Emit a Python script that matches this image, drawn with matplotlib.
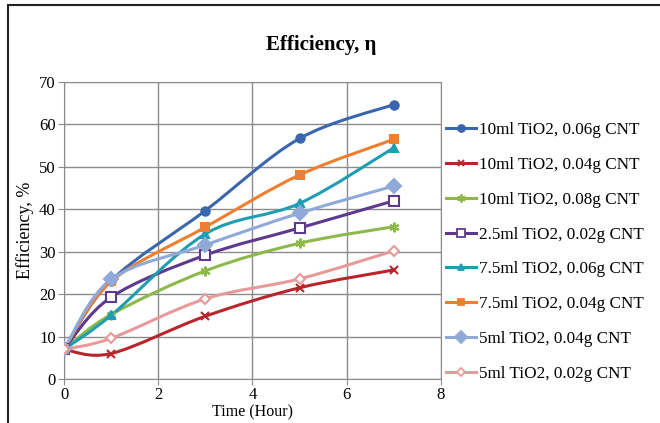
import numpy as np
import matplotlib
matplotlib.use("Agg")
import matplotlib.pyplot as plt
from matplotlib.path import Path
from matplotlib.patches import PathPatch, Rectangle
from matplotlib.lines import Line2D

plt.rcParams["font.family"] = ["Liberation Serif", "DejaVu Serif"]

# time in hours
hours = [0, 1, 3, 5, 7]

eff_10ml_006 = [7, 23.2, 39.7, 56.7, 64.7]
eff_10ml_004 = [7, 6, 14.8, 21.5, 25.7]
eff_10ml_008 = [7, 15.2, 25.5, 32.0, 35.9]
eff_25ml_002 = [7, 19.3, 29.2, 35.6, 42.0]
eff_75ml_006 = [7, 15.0, 34.2, 41.4, 54.5]
eff_75ml_004 = [7, 23.0, 35.8, 48.1, 56.5]
eff_5ml_004 = [7, 23.5, 31.6, 39.1, 45.5]
eff_5ml_002 = [7, 9.6, 18.9, 23.6, 30.2]

labels = [
    "10ml TiO2, 0.06g CNT",
    "10ml TiO2, 0.04g CNT",
    "10ml TiO2, 0.08g CNT",
    "2.5ml TiO2, 0.02g CNT",
    "7.5ml TiO2, 0.06g CNT",
    "7.5ml TiO2, 0.04g CNT",
    "5ml TiO2, 0.04g CNT",
    "5ml TiO2, 0.02g CNT",
]
series = [eff_10ml_006, eff_10ml_004, eff_10ml_008, eff_25ml_002,
          eff_75ml_006, eff_75ml_004, eff_5ml_004, eff_5ml_002]

# color, marker, marker size, marker face
styles = [
    ("#3a66ad", "o", 6, None),
    ("#b8252c", "x", 6, None),
    ("#8db84a", (6, 2, 0), 7, None),
    ("#5d3a8e", "s", 7, "white"),
    ("#1f9db3", "^", 6, None),
    ("#ef7f2f", "s", 6, None),
    ("#8fa9d8", "D", 7, None),
    ("#e89a9a", "D", 5, "white"),
]


def smooth_path(ax, xs, ys):
    # excel-like smoothed line: catmull-rom segments as cubic beziers
    pts = ax.transData.transform(np.column_stack([xs, ys]))
    verts = [pts[0]]
    codes = [Path.MOVETO]
    n = len(pts)
    for i in range(n - 1):
        p0 = pts[i - 1] if i > 0 else pts[i]
        p1 = pts[i]
        p2 = pts[i + 1]
        p3 = pts[i + 2] if i + 2 < n else pts[i + 1]
        c1 = p1 + (p2 - p0) / 6.0
        c2 = p2 - (p3 - p1) / 6.0
        verts += [c1, c2, p2]
        codes += [Path.CURVE4] * 3
    return Path(verts, codes)


fig = plt.figure(figsize=(6.6, 4.23), dpi=100)
ax = fig.add_axes([0.097, 0.104, 0.571, 0.702])

ax.set_xlim(0, 8)
ax.set_ylim(0, 70)
ax.set_xticks([0, 2, 4, 6, 8])
ax.set_yticks(range(0, 71, 10))
ax.grid(True, color="#8c8c8c", linewidth=1.0)
ax.set_axisbelow(True)
for s in ax.spines.values():
    s.set_color("#8c8c8c")
ax.tick_params(axis="both", direction="out", length=4, color="#8c8c8c",
               labelsize=12, pad=2)

for ys, lab, (col, mk, ms, mfc) in zip(series, labels, styles):
    path = smooth_path(ax, hours, ys)
    patch = PathPatch(path, facecolor="none", edgecolor=col, lw=2.2,
                      transform=None, zorder=3)
    ax.add_patch(patch)
    ax.plot(hours, ys, linestyle="none", color=col, marker=mk,
            markersize=ms, markerfacecolor=mfc if mfc else col,
            markeredgecolor=col, markeredgewidth=1.5, label=lab, zorder=4)

# legend handles show the line too
leg_handles = []
for lab, (col, mk, ms, mfc) in zip(labels, styles):
    leg_handles.append(Line2D([], [], color=col, lw=2.2, marker=mk,
                              markersize=ms - 1,
                              markerfacecolor=mfc if mfc else col,
                              markeredgecolor=col, markeredgewidth=1.3))

fig.legend(leg_handles, labels, loc="upper left",
           bbox_to_anchor=(0.665, 0.727), frameon=False, fontsize=12.3,
           handlelength=1.8, handletextpad=0.15, labelspacing=1.10,
           borderaxespad=0)

ax.set_ylabel("Efficiency, %", fontsize=13, labelpad=4)
ax.set_xlabel("Time (Hour)", fontsize=11.5)
ax.xaxis.set_label_coords(0.5, -0.087)
fig.text(0.487, 0.894, "Efficiency, \u03b7", fontsize=15, fontweight="bold",
         ha="center", va="center")

# outer chart border
fig.patches.append(Rectangle((8 / 660, -0.1), 1.2, 1.1 - 5 / 423,
                             transform=fig.transFigure, fill=False,
                             edgecolor="#222222", lw=1.5, figure=fig))

fig.savefig("out.png", dpi=100)
